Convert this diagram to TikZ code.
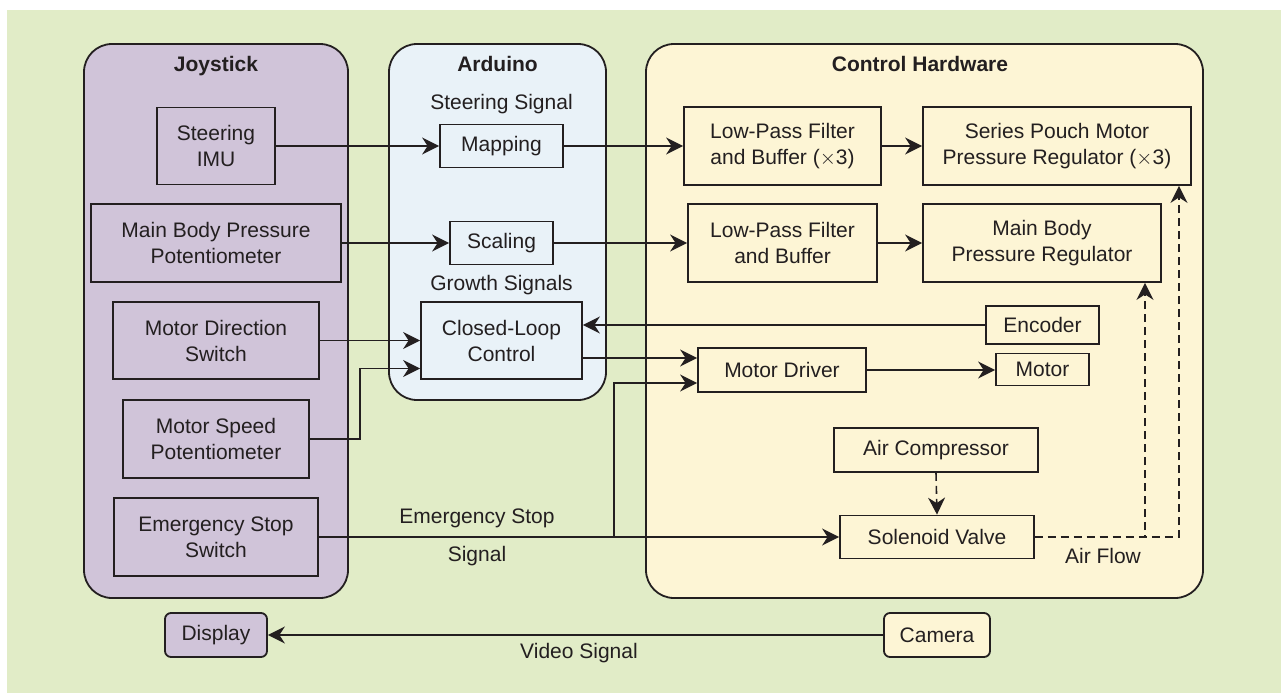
\documentclass[tikz,border=0pt]{standalone}
\usepackage{fontspec}
\setmainfont{Liberation Sans}
\usetikzlibrary{arrows.meta}
\definecolor{bggreen}{RGB}{225,236,199}
\definecolor{joypurple}{RGB}{208,196,217}
\definecolor{ardblue}{RGB}{233,242,248}
\definecolor{ctlcream}{RGB}{253,245,213}
\definecolor{ink}{RGB}{35,31,32}
\tikzset{
  group/.style={draw=ink, line width=1.8pt, rounded corners=28pt, inner sep=0pt},
  box/.style={draw=ink, line width=1.8pt, inner sep=0pt, align=center, text=ink},
  rbox/.style={box, rounded corners=6pt},
  title/.style={font=\fontsize{21}{26}\selectfont\bfseries, text=ink, inner sep=0pt, anchor=base},
  lbl/.style={text=ink, inner sep=0pt},
  arr/.style={draw=ink, line width=1.6pt, -{Stealth[length=17pt,width=17pt,inset=5.5pt]}},
  darr/.style={arr, dash pattern=on 8pt off 5pt},
}
\begin{document}
\begin{tikzpicture}[x=1pt,y=-1pt,font=\fontsize{21}{26}\selectfont]
\useasboundingbox (0,0) rectangle (1281,693);
\fill[white] (0,0) rectangle (1281,693);
\fill[bggreen] (7,10) rectangle (1281,693);

% groups
\node[group, fill=joypurple, minimum width=264pt, minimum height=554pt] (joy) at (216,321) {};
\node[group, fill=ardblue, minimum width=217pt, minimum height=356pt] (ard) at (497.5,222) {};
\node[group, fill=ctlcream, minimum width=557pt, minimum height=554pt] (ctl) at (924.5,321) {};
\node[title] (joyt) at (216,71.5) {Joystick};
\node[title] (ardt) at (497.5,71.5) {Arduino};
\node[title] (ctlt) at (920,71.5) {Control Hardware};

% joystick boxes
\node[box, fill=joypurple, minimum width=118pt, minimum height=77pt] (imu) at (216,146) {Steering\\IMU};
\node[box, fill=joypurple, minimum width=250pt, minimum height=78pt] (mbpp) at (216,243) {Main Body Pressure\\Potentiometer};
\node[box, fill=joypurple, minimum width=206pt, minimum height=77pt] (mds) at (216,340.5) {Motor Direction\\Switch};
\node[box, fill=joypurple, minimum width=186pt, minimum height=78pt] (msp) at (216,439) {Motor Speed\\Potentiometer};
\node[box, fill=joypurple, minimum width=204pt, minimum height=78pt] (ess) at (216,537) {Emergency Stop\\Switch};
\node[rbox, fill=joypurple, minimum width=102pt, minimum height=44pt] (disp) at (216,635) {Display};

% arduino boxes
\node[lbl] (ssig) at (501.5,104) {Steering Signal};
\node[box, fill=ardblue, minimum width=123pt, minimum height=43pt] (map) at (501.5,146) {Mapping};
\node[box, fill=ardblue, minimum width=103pt, minimum height=43pt] (scal) at (501.5,243) {Scaling};
\node[lbl] (gsig) at (501.5,285) {Growth Signals};
\node[box, fill=ardblue, minimum width=161pt, minimum height=77pt] (clc) at (501.5,340.5) {Closed-Loop\\Control};

% control hardware boxes
\node[box, fill=ctlcream, minimum width=197pt, minimum height=78pt] (lpf1) at (782.5,146) {Low-Pass Filter\\and Buffer ($\times$3)};
\node[box, fill=ctlcream, minimum width=268pt, minimum height=78pt] (spm) at (1057,146) {Series Pouch Motor\\Pressure Regulator ($\times$3)};
\node[box, fill=ctlcream, minimum width=189pt, minimum height=78pt] (lpf2) at (782.5,243) {Low-Pass Filter\\and Buffer};
\node[box, fill=ctlcream, minimum width=238pt, minimum height=78pt] (mbpr) at (1042,243) {Main Body\\Pressure Regulator};
\node[box, fill=ctlcream, minimum width=113pt, minimum height=38pt] (enc) at (1042.5,325) {Encoder};
\node[box, fill=ctlcream, minimum width=168pt, minimum height=44pt] (md) at (782,370) {Motor Driver};
\node[box, fill=ctlcream, minimum width=93pt, minimum height=32pt] (mot) at (1042.5,369.5) {Motor};
\node[box, fill=ctlcream, minimum width=204pt, minimum height=44pt] (ac) at (936,450) {Air Compressor};
\node[box, fill=ctlcream, minimum width=194pt, minimum height=43pt] (sv) at (937,537) {Solenoid Valve};
\node[rbox, fill=ctlcream, minimum width=106pt, minimum height=44pt] (cam) at (937,635) {Camera};

% connectors
\draw[arr] (imu.east) -- (map.west);
\draw[arr] (map.east) -- (lpf1.west);
\draw[arr] (lpf1.east) -- (spm.west);
\draw[arr] (mbpp.east) -- (scal.west);
\draw[arr] (scal.east) -- (lpf2.west);
\draw[arr] (lpf2.east) -- (mbpr.west);
\draw[arr] (mds.east) -- (mds.east -| clc.west);
\draw[arr] (msp.east) -- ++(50,0) |- ([yshift=-28pt]clc.west);
\draw[arr] (enc.west) -- (enc.west -| clc.east);
\draw[arr] ([yshift=-17.5pt]clc.east) -- ([yshift=-17.5pt]clc.east -| md.west);
\draw[arr] (md.east) -- (md.east -| mot.west);
\draw[arr] (ess.east) -- (ess.east -| sv.west);
\coordinate (esb) at (614,537);
\draw[arr] (esb) |- ([yshift=-13pt]md.west);
\draw[darr] (ac.south) -- (sv.north);
\draw[darr] (sv.east) -| ([xshift=122pt]spm.south);
\draw[darr] (sv.east) -| ([xshift=103pt]mbpr.south);
\draw[arr] (cam.west) -- (disp.east);

% labels
\node[lbl] (esl1) at (477,518) {Emergency Stop};
\node[lbl] (esl2) at (477,556) {Signal};
\node[lbl] (afl) at (1103,556) {Air Flow};
\node[lbl] (vsl) at (579,653) {Video Signal};
\end{tikzpicture}
\end{document}
